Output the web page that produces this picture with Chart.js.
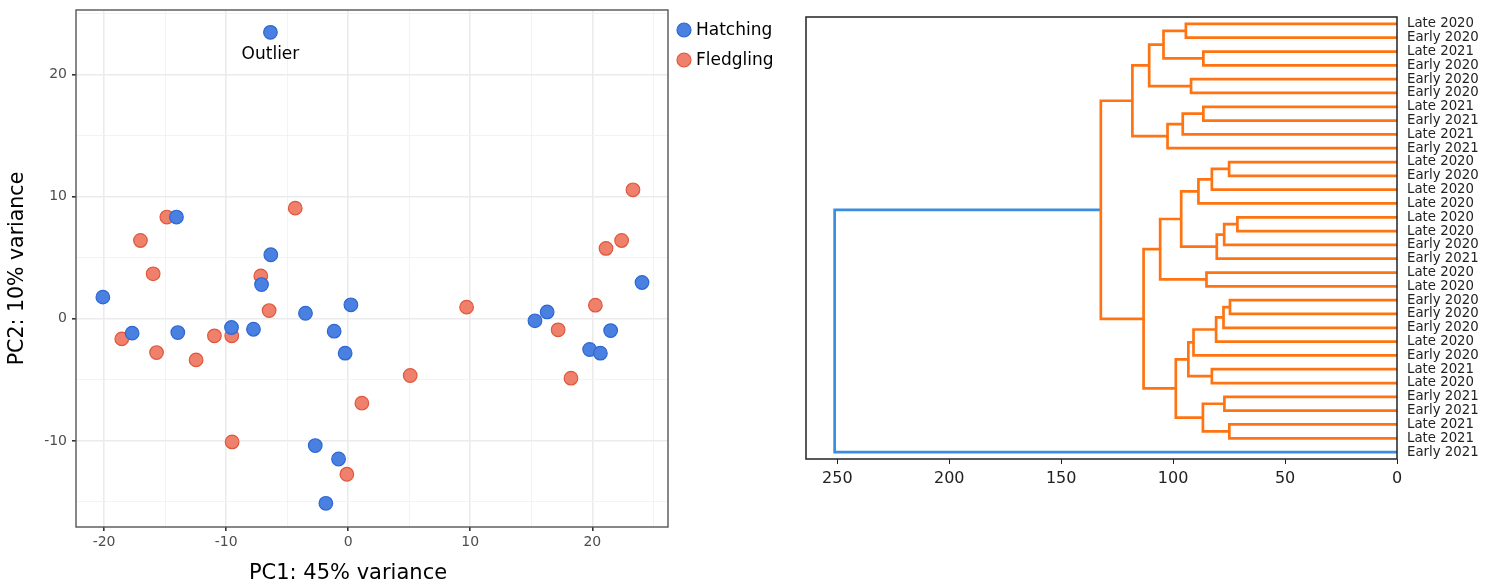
<!DOCTYPE html>
<html>
<head>
<meta charset="utf-8">
<script src="https://cdn.jsdelivr.net/npm/chart.js@4.4.1/dist/chart.umd.min.js"></script>
<style>
  body { margin: 0; background: #fff; }
  #wrap { position: relative; width: 1493px; height: 584px; }
  .box { position: absolute; top: 0; height: 584px; }
</style>
</head>
<body>
<div id="wrap">
  <div class="box" style="left:0;width:790px"><canvas id="pca"></canvas></div>
  <div class="box" style="left:790px;width:703px"><canvas id="dendro"></canvas></div>
</div>
<script>
// PCA scores
const hatchX = [-6.37, -14.07, -6.34, -7.1, -20.1, -17.7, -13.96, -9.56, -7.76, -3.5, 0.22, -1.15, -0.25, -2.7, -0.79, -1.83, 15.3, 16.3, 21.5, 19.78, 20.66, 24.07];
const hatchY = [23.47, 8.34, 5.25, 2.81, 1.78, -1.17, -1.12, -0.71, -0.85, 0.46, 1.15, -1.01, -2.81, -10.38, -11.48, -15.11, -0.16, 0.57, -0.96, -2.51, -2.81, 2.98];
const fledgX = [-18.55, -15.7, -12.46, -10.96, -9.54, -6.48, 1.12, -9.51, -0.11, -14.86, -17.02, -15.98, -7.16, -4.34, 23.33, 22.4, 21.12, 9.7, 5.08, 17.2, 20.25, 18.25];
const fledgY = [-1.64, -2.76, -3.36, -1.39, -1.39, 0.68, -6.91, -10.08, -12.73, 8.34, 6.42, 3.69, 3.52, 9.07, 10.57, 6.42, 5.77, 0.96, -4.64, -0.9, 1.12, -4.86];
const groupNames = ['Hatching', 'Fledgling'];
const pcaXTicks = [-20, -15, -10, -5, 0, 5, 10, 15, 20, 25];
const pcaYTicks = [-15, -10, -5, 0, 5, 10, 15, 20, 25];
const outlierNote = { text: 'Outlier', x: -6.37, y: 21.65 };
const pcaXTitle = 'PC1: 45% variance';
const pcaYTitle = 'PC2: 10% variance';

// dendrogram: leaves top to bottom, then merges (ids >= 32 are earlier merges)
const leafLabels = ['Late 2020', 'Early 2020', 'Late 2021', 'Early 2020', 'Early 2020', 'Early 2020',
  'Late 2021', 'Early 2021', 'Late 2021', 'Early 2021', 'Late 2020', 'Early 2020', 'Late 2020',
  'Late 2020', 'Late 2020', 'Late 2020', 'Early 2020', 'Early 2021', 'Late 2020', 'Late 2020',
  'Early 2020', 'Early 2020', 'Early 2020', 'Late 2020', 'Early 2020', 'Late 2021', 'Late 2020',
  'Early 2021', 'Early 2021', 'Late 2021', 'Late 2021', 'Early 2021'];
const linkLeft   = [14, 20, 29, 10, 27, 32, 33, 37, 38, 35, 25, 18, 2, 6, 36, 41, 40, 4, 48, 0, 45, 47, 50, 52, 51, 53, 56, 57, 58, 60, 61];
const linkRight  = [15, 21, 30, 11, 28, 16, 22, 17, 23, 12, 26, 19, 3, 7, 34, 13, 24, 5, 42, 1, 8, 39, 46, 9, 44, 43, 49, 54, 55, 59, 31];
const linkHeight = [71.3, 74.6, 74.9, 75.0, 77.1, 77.2, 77.5, 80.5, 80.8, 82.7, 82.7, 85.1, 86.5, 86.5, 86.7, 88.7,
  90.9, 92.0, 93.2, 94.3, 95.7, 96.4, 98.8, 102.5, 104.3, 105.8, 110.7, 113.2, 118.2, 132.3, 251.2];
const dendroTicks = [0, 50, 100, 150, 200, 250];

const font = 'DejaVu Sans';

function toPoints(xs, ys) {
    return xs.map((x, i) => ({ x: x, y: ys[i] }));
}

const frame = {
    id: 'frame',
    afterDatasetsDraw(chart, args, opts) {
        const a = chart.chartArea;
        const ctx = chart.ctx;
        ctx.save();
        ctx.strokeStyle = opts.color;
        ctx.lineWidth = opts.width;
        ctx.strokeRect(a.left, a.top, a.right - a.left, a.bottom - a.top);
        ctx.restore();
    }
};

// legend, x title and the "Outlier" note for the PCA panel
const pcaExtras = {
    id: 'pcaExtras',
    afterDraw(chart) {
        const ctx = chart.ctx;
        const xs = chart.scales.x, ys = chart.scales.y;
        ctx.save();
        ctx.font = '17px "' + font + '"';
        ctx.fillStyle = '#000';
        ctx.textAlign = 'center';
        ctx.textBaseline = 'middle';
        ctx.fillText(outlierNote.text, xs.getPixelForValue(outlierNote.x), ys.getPixelForValue(outlierNote.y));

        ctx.font = '21px "' + font + '"';
        ctx.fillText(pcaXTitle, 348, 574);

        ctx.font = '17px "' + font + '"';
        ctx.textAlign = 'left';
        chart.data.datasets.forEach((ds, i) => {
            const cy = 30 + i * 30;
            ctx.beginPath();
            ctx.arc(684, cy, 7, 0, Math.PI * 2);
            ctx.fillStyle = ds.backgroundColor;
            ctx.fill();
            ctx.lineWidth = 1.2;
            ctx.strokeStyle = ds.borderColor;
            ctx.stroke();
            ctx.fillStyle = '#000';
            ctx.fillText(ds.label, 696, cy + 1);
        });
        ctx.restore();
    }
};

function isMajor(c) {
    return c.tick && c.tick.value % 10 === 0;
}

const pcaGrid = {
    color: (c) => isMajor(c) ? '#ebebeb' : '#f2f2f2',
    lineWidth: (c) => isMajor(c) ? 1.6 : 0.9,
    tickColor: (c) => isMajor(c) ? '#333' : 'rgba(0,0,0,0)',
    tickLength: 4
};

new Chart(document.getElementById('pca'), {
    type: 'scatter',
    data: {
        datasets: [{
            label: groupNames[0],
            data: toPoints(hatchX, hatchY),
            backgroundColor: '#4a80e0',
            borderColor: '#2d66d6',
        }, {
            label: groupNames[1],
            data: toPoints(fledgX, fledgY),
            backgroundColor: '#ee806c',
            borderColor: '#e0573c',
        }]
    },
    options: {
        responsive: true,
        maintainAspectRatio: false,
        animation: false,
        layout: { padding: { top: 10, right: 122, left: 0, bottom: 0 } },
        elements: { point: { radius: 6.8, borderWidth: 1.2, hoverRadius: 6.8 } },
        plugins: {
            legend: { display: false },
            tooltip: { enabled: false },
            frame: { color: '#555', width: 1.4 }
        },
        scales: {
            x: {
                type: 'linear', min: -22.3, max: 26.2,
                afterBuildTicks: (s) => { s.ticks = pcaXTicks.map(v => ({ value: v })); },
                afterFit: (s) => { s.height = 57; s.paddingLeft = 0; s.paddingRight = 0; },
                ticks: {
                    callback: (v) => v % 10 === 0 ? String(v) : '',
                    color: '#4d4d4d', font: { family: font, size: 14 }, padding: 3, maxRotation: 0
                },
                grid: pcaGrid,
                border: { display: false }
            },
            y: {
                type: 'linear', min: -17.05, max: 25.3,
                afterBuildTicks: (s) => { s.ticks = pcaYTicks.map(v => ({ value: v })); },
                afterFit: (s) => { s.width = 76; s.paddingTop = 0; s.paddingBottom = 0; },
                ticks: {
                    callback: (v) => v % 10 === 0 ? String(v) : '',
                    color: '#4d4d4d', font: { family: font, size: 14 }, padding: 5
                },
                grid: pcaGrid,
                border: { display: false },
                title: {
                    display: true, text: pcaYTitle, color: '#000',
                    font: { family: font, size: 20.5, lineHeight: 1 }, padding: { top: 7.5, bottom: 0 }
                }
            }
        }
    },
    plugins: [frame, pcaExtras]
});

// build dendrogram links from the merge table
const nodeY = leafLabels.map((_, i) => 5 + 10 * i);
const nodeH = leafLabels.map(() => 0);
const cutHeight = 0.7 * Math.max(...linkHeight);
const linkSets = linkHeight.map((h, k) => {
    const a = linkLeft[k], b = linkRight[k];
    const ya = nodeY[a], yb = nodeY[b];
    const pts = [
        { x: nodeH[a], y: ya }, { x: h, y: ya },
        { x: h, y: yb }, { x: nodeH[b], y: yb }
    ];
    nodeY.push((ya + yb) / 2);
    nodeH.push(h);
    return {
        data: pts,
        showLine: true,
        borderColor: h > cutHeight ? '#3a8ee2' : '#ff7412',
        borderWidth: 2.7,
        pointRadius: 0,
        pointHoverRadius: 0,
        tension: 0
    };
});

new Chart(document.getElementById('dendro'), {
    type: 'scatter',
    data: { datasets: linkSets },
    options: {
        responsive: true,
        maintainAspectRatio: false,
        animation: false,
        layout: { padding: { top: 17, left: 16, right: 0, bottom: 0 } },
        plugins: {
            legend: { display: false },
            tooltip: { enabled: false },
            frame: { color: '#222', width: 1.5 }
        },
        scales: {
            x: {
                type: 'linear', reverse: true, min: 0, max: 264,
                afterBuildTicks: (s) => { s.ticks = dendroTicks.map(v => ({ value: v })); },
                afterFit: (s) => { s.height = 125; s.paddingLeft = 0; s.paddingRight = 0; },
                ticks: { color: '#222', font: { family: font, size: 16 }, padding: 5, maxRotation: 0 },
                grid: { drawOnChartArea: false, tickLength: 5, tickColor: '#222' },
                border: { display: false }
            },
            y: {
                type: 'linear', position: 'right', reverse: true, min: 0, max: 320,
                afterBuildTicks: (s) => { s.ticks = leafLabels.map((_, i) => ({ value: 5 + 10 * i })); },
                afterFit: (s) => { s.width = 96; s.paddingTop = 0; s.paddingBottom = 0; },
                ticks: {
                    callback: (v, i) => leafLabels[i],
                    color: '#222', font: { family: font, size: 13.3 }, padding: 10, autoSkip: false
                },
                grid: { display: false, drawTicks: false },
                border: { display: false }
            }
        }
    },
    plugins: [frame]
});
</script>
</body>
</html>
